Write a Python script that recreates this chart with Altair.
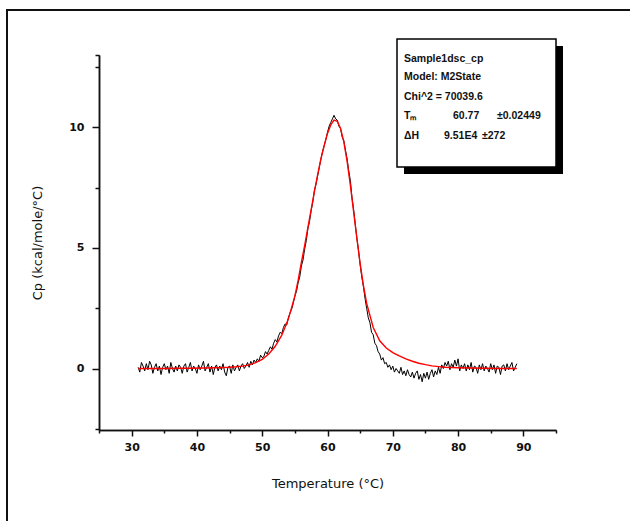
import altair as alt
import pandas as pd

# ---------------- data ----------------
# measured DSC trace (black), sampled every 0.25 degC from 31 to 89
T_START = 31.0
T_STEP = 0.25
cp_measured = [
    0.05, -0.15, 0.25, 0.10, -0.10, 0.20, -0.05, 0.30,
    0.15, -0.20, 0.05, 0.20, -0.10, 0.10, -0.25, 0.05,
    0.20, -0.05, 0.10, -0.20, 0.25, 0.00, -0.15, 0.10,
    -0.10, 0.15, 0.05, -0.20, 0.10, 0.20, -0.15, 0.05,
    0.25, -0.10, 0.10, 0.00, -0.20, 0.15, -0.05, 0.10,
    0.30, -0.10, 0.05, 0.20, -0.15, 0.10, -0.25, 0.05,
    0.15, -0.10, 0.10, -0.05, 0.20, -0.15, -0.30, 0.05,
    0.10, -0.20, 0.15, -0.10, 0.05, 0.15, -0.10, 0.10,
    0.20, 0.00, 0.10, 0.25, 0.05, 0.30, 0.15, 0.35,
    0.25, 0.40, 0.30, 0.55, 0.45, 0.50, 0.70, 0.60,
    0.75, 0.90, 0.80, 1.05, 1.20, 1.10, 1.35, 1.50,
    1.45, 1.70, 1.85, 1.80, 2.10, 2.30, 2.45, 2.70,
    3.00, 3.20, 3.55, 3.80, 4.25, 4.50, 4.95, 5.30,
    5.80, 6.10, 6.55, 6.90, 7.40, 7.65, 8.00, 8.35,
    8.70, 9.00, 9.25, 9.50, 9.80, 10.05, 10.20, 10.35,
    10.50, 10.35, 10.30, 10.05, 9.95, 9.60, 9.45, 9.05,
    8.70, 8.20, 7.80, 7.10, 6.60, 6.00, 5.40, 4.90,
    4.30, 3.80, 3.40, 2.90, 2.50, 2.10, 1.90, 1.50,
    1.40, 1.05, 0.95, 0.70, 0.60, 0.35, 0.45, 0.20,
    0.25, 0.05, 0.15, -0.05, 0.10, -0.15, 0.00, -0.10,
    -0.20, 0.05, -0.25, -0.10, -0.30, -0.05, -0.25, -0.35,
    -0.15, -0.40, -0.20, -0.10, -0.45, -0.25, -0.55, -0.20,
    -0.40, -0.15, -0.45, -0.20, -0.05, -0.35, -0.10, -0.25,
    0.05, -0.20, 0.15, 0.00, 0.25, 0.10, 0.30, -0.05,
    0.20, 0.05, 0.35, 0.10, 0.40, -0.10, 0.15, 0.00,
    0.20, -0.10, 0.15, -0.05, 0.25, -0.15, 0.10, 0.05,
    -0.20, 0.15, -0.05, 0.20, -0.10, 0.10, 0.00, -0.15,
    0.20, -0.05, 0.15, -0.20, 0.10, 0.05, -0.25, 0.10,
    0.15, -0.10, 0.20, -0.05, 0.10, 0.25, -0.10, 0.05,
    0.20,
]
t_measured = [T_START + i * T_STEP for i in range(len(cp_measured))]

# two-state fit (red)
t_fit = [31, 33, 35, 37, 39, 41, 43, 45, 46, 47, 48, 49, 50, 51, 52, 53, 54,
         55, 55.5, 56, 56.5, 57, 57.5, 58, 58.5, 59, 59.5, 60, 60.5, 61,
         61.5, 62, 62.5, 63, 63.5, 64, 64.5, 65, 65.5, 66, 67, 68, 69, 70,
         71, 72, 73, 74, 75, 76, 77, 78, 80, 82, 84, 86, 89]
cp_fit = [0.0, 0.0, 0.0, 0.01, 0.01, 0.02, 0.03, 0.05, 0.07, 0.10, 0.15,
          0.24, 0.38, 0.60, 0.92, 1.38, 2.05, 3.0, 3.65, 4.4, 5.1, 5.85,
          6.6, 7.35, 8.05, 8.7, 9.25, 9.75, 10.1, 10.3, 10.25, 9.95, 9.4,
          8.6, 7.6, 6.5, 5.4, 4.35, 3.45, 2.7, 1.7, 1.15, 0.85, 0.66, 0.52,
          0.40, 0.30, 0.22, 0.16, 0.11, 0.08, 0.05, 0.03, 0.02, 0.01, 0.0,
          0.0]

x_major = [30, 40, 50, 60, 70, 80, 90]
x_minor = [25, 35, 45, 55, 65, 75, 85, 95]
y_major = [0, 5, 10]
y_minor = [-2.5, 2.5, 7.5, 12.5, 13]

legend_rows = [
    ["Sample1dsc_cp"],
    ["Model: M2State"],
    ["Chi^2 = 70039.6"],
    ["T\u2098", "60.77", "\u00b10.02449"],
    ["\u0394H", "9.51E4", "\u00b1272"],
]

# ---------------- chart ----------------
W, H = 457, 375
FONT = "DejaVu Sans"
LFONT = "Liberation Sans"

df_meas = pd.DataFrame({"T": t_measured, "Cp": cp_measured})
df_fit = pd.DataFrame({"T": t_fit, "Cp": cp_fit})

xscale = alt.Scale(domain=[25, 95], nice=False, zero=False)
yscale = alt.Scale(domain=[-2.55, 13], nice=False, zero=False)

major_x = alt.Axis(values=x_major, tickSize=6, labelPadding=5, grid=False,
                   title="Temperature (\u00b0C)", titleX=W / 2, titleY=53,
                   titleBaseline="middle", orient="bottom")
minor_x = alt.Axis(values=x_minor, tickSize=3, labels=False, grid=False,
                   title=None, orient="bottom")
major_y = alt.Axis(values=y_major, tickSize=7, labelPadding=8, grid=False,
                   title="Cp (kcal/mole/\u00b0C)", titleX=-62, titleY=H / 2,
                   titleBaseline="middle", orient="left")
minor_y = alt.Axis(values=y_minor, tickSize=4, labels=False, grid=False,
                   title=None, orient="left")

one = alt.Data(values=[{}])

frame = alt.Chart(one).mark_rect(fill=None, stroke="#111", strokeWidth=2).encode(
    x=alt.value(-92), x2=alt.value(560), y=alt.value(-45), y2=alt.value(490))

meas = alt.Chart(df_meas).mark_line(color="black", strokeWidth=1).encode(
    x=alt.X("T:Q", scale=xscale, axis=major_x),
    y=alt.Y("Cp:Q", scale=yscale, axis=major_y),
)
fit = alt.Chart(df_fit).mark_line(color="#ff0000", strokeWidth=1.4).encode(
    x=alt.X("T:Q", scale=xscale, axis=minor_x),
    y=alt.Y("Cp:Q", scale=yscale, axis=minor_y),
)

shadow = alt.Chart(one).mark_rect(fill="black").encode(
    x=alt.value(305), x2=alt.value(464), y=alt.value(-9), y2=alt.value(119))
box = alt.Chart(one).mark_rect(fill="white", stroke="black", strokeWidth=1.5).encode(
    x=alt.value(298), x2=alt.value(457), y=alt.value(-16), y2=alt.value(112))

row_y = [4, 22, 42, 61, 81]
texts = []
col_x = {3: [305, 354, 398], 4: [305, 345, 383]}
for i, row in enumerate(legend_rows):
    xs = col_x.get(i, [305])
    for j, s in enumerate(row):
        texts.append(
            alt.Chart(one).mark_text(text=s, align="left", baseline="middle",
                                     font=LFONT, fontSize=10.5, fontWeight="bold",
                                     color="#111").encode(
                x=alt.value(xs[j]), y=alt.value(row_y[i]))
        )

chart = alt.layer(frame, meas, fit, shadow, box, *texts).resolve_axis(
    x="independent", y="independent"
).properties(
    width=W, height=H,
    autosize=alt.AutoSizeParams(type="none"),
    padding={"left": 99, "top": 55, "right": 74, "bottom": 91},
    background="white",
).configure_view(stroke=None).configure_axis(
    labelFont=FONT, labelFontSize=11, labelFontWeight="bold", labelColor="#111",
    titleFont=FONT, titleFontSize=13, titleFontWeight="normal", titleColor="#111",
    domainColor="#111", tickColor="#111", domainWidth=1.5, tickWidth=1.5,
)

chart.save("out.html", embed_options={"renderer": "svg", "actions": False})
